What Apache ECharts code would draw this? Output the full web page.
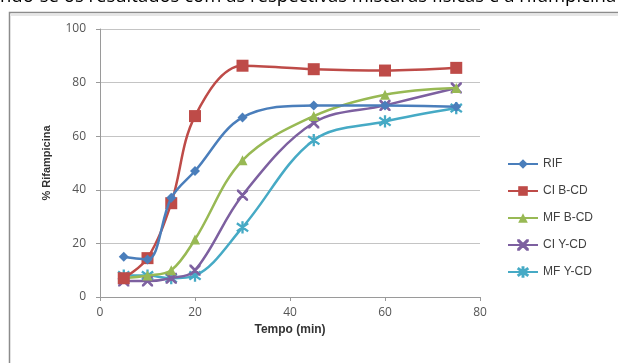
<!DOCTYPE html>
<html>
<head>
<meta charset="utf-8">
<script src="https://cdn.jsdelivr.net/npm/echarts@6/dist/echarts.min.js"></script>
<style>
  html, body { margin: 0; padding: 0; background: #fff; }
  #chart { width: 618px; height: 363px; }
</style>
</head>
<body>
<div id="chart"></div>
<script>
// Dissolution time points (min)
const tempos = [5, 10, 15, 20, 30, 45, 60, 75];

// % Rifampicina dissolved for each formulation
const rif    = [15, 14, 37, 47, 67, 71.5, 71.5, 71];
const ciBCD  = [7, 14.5, 35, 67.5, 86.3, 85, 84.5, 85.5];
const mfBCD  = [7, 8, 10, 21.5, 51, 67.5, 75.5, 78];
const ciYCD  = [6, 6, 7, 10, 38, 65, 71.5, 78];
const mfYCD  = [8, 8, 7, 8, 26, 58.5, 65.5, 70.5];

const seriesNames = ['RIF', 'CI B-CD', 'MF B-CD', 'CI Y-CD', 'MF Y-CD'];
const xTicks = [0, 20, 40, 60, 80];
const yTicks = [0, 20, 40, 60, 80, 100];

const colors = ['#4A7EBB', '#BE4B48', '#98B954', '#7D60A0', '#46AAC5'];
const crossPath = 'path://M0,0 L1,0 L10,9 L10,10 L9,10 L0,1 Z M10,0 L10,1 L1,10 L0,10 L0,9 L9,0 Z';
const starPath = 'path://M4.5,0 L5.5,0 L5.5,10 L4.5,10 Z M0,2 L0.6,1.2 L10,8 L9.4,8.8 Z M10,2 L9.4,1.2 L0,8 L0.6,8.8 Z';
const symbols = ['diamond', 'rect', 'triangle', crossPath, starPath];
const symbolSizes = [10, 12, 10, 10, 11];
const values = [rif, ciBCD, mfBCD, ciYCD, mfYCD];

const chart = echarts.init(document.getElementById('chart'), null, { renderer: 'canvas' });

const series = seriesNames.map((name, i) => ({
  name: name,
  type: 'line',
  smooth: 0.35,
  data: tempos.map((t, k) => [t, values[i][k]]),
  symbol: symbols[i],
  symbolSize: symbolSizes[i],
  lineStyle: { color: colors[i], width: 2.5 },
  itemStyle: { color: colors[i], borderColor: colors[i], borderWidth: i >= 3 ? 1.2 : 0 },
  emphasis: { disabled: true },
  z: 5 - i
}));

chart.setOption({
  animation: false,
  backgroundColor: '#ffffff',
  textStyle: { fontFamily: 'Open Sans, Liberation Sans, sans-serif' },
  graphic: [
    {
      type: 'text',
      left: 0, top: -13,
      style: {
        text: 'ndo-se os resultados com as respectivas misturas físicas e a rifampicina',
        font: '18.5px "Open Sans", "Liberation Sans", sans-serif',
        fill: '#000'
      },
      z: 10
    },
    {
      type: 'rect',
      shape: { x: 9.5, y: 12.5, width: 640, height: 400 },
      style: { fill: 'none', stroke: '#8c8c8c', lineWidth: 1.5 },
      z: 1
    },
    {
      type: 'line',
      shape: { x1: 10, y1: 15, x2: 618, y2: 15 },
      style: { stroke: '#e6e6e6', lineWidth: 2 },
      z: 1
    }
  ],
  legend: {
    orient: 'vertical',
    left: 502,
    top: 153,
    itemGap: 15,
    itemWidth: 30,
    itemHeight: 12,
    textStyle: { fontSize: 12, color: '#404040', fontFamily: 'Liberation Sans, sans-serif' },
    data: seriesNames
  },
  grid: { left: 100, right: 138, top: 29, bottom: 66 },
  xAxis: {
    type: 'value',
    min: 0, max: 80, interval: 20,
    name: 'Tempo (min)',
    nameLocation: 'middle',
    nameGap: 27,
    nameTextStyle: { fontSize: 12, fontWeight: 'bold', color: '#333', fontFamily: 'Liberation Sans, sans-serif' },
    axisLine: { lineStyle: { color: '#9a9a9a' } },
    axisTick: { show: true, inside: false, length: 4, lineStyle: { color: '#9a9a9a' } },
    axisLabel: {
      fontSize: 12, color: '#555', margin: 10,
      formatter: v => xTicks.includes(v) ? String(v) : ''
    },
    splitLine: { show: false }
  },
  yAxis: {
    type: 'value',
    min: 0, max: 100, interval: 20,
    name: '% Rifampicina',
    nameLocation: 'middle',
    nameGap: 48,
    nameRotate: 90,
    nameTextStyle: { fontSize: 11, fontWeight: 'bold', color: '#333', fontFamily: 'Liberation Sans, sans-serif' },
    axisLine: { show: true, lineStyle: { color: '#9a9a9a' } },
    axisTick: { show: true, length: 4, lineStyle: { color: '#9a9a9a' } },
    axisLabel: {
      fontSize: 12, color: '#555', margin: 14,
      formatter: v => yTicks.includes(v) ? String(v) : ''
    },
    splitLine: { lineStyle: { color: '#c4c4c4', width: 1.2 } }
  },
  series: series
});
</script>
</body>
</html>
